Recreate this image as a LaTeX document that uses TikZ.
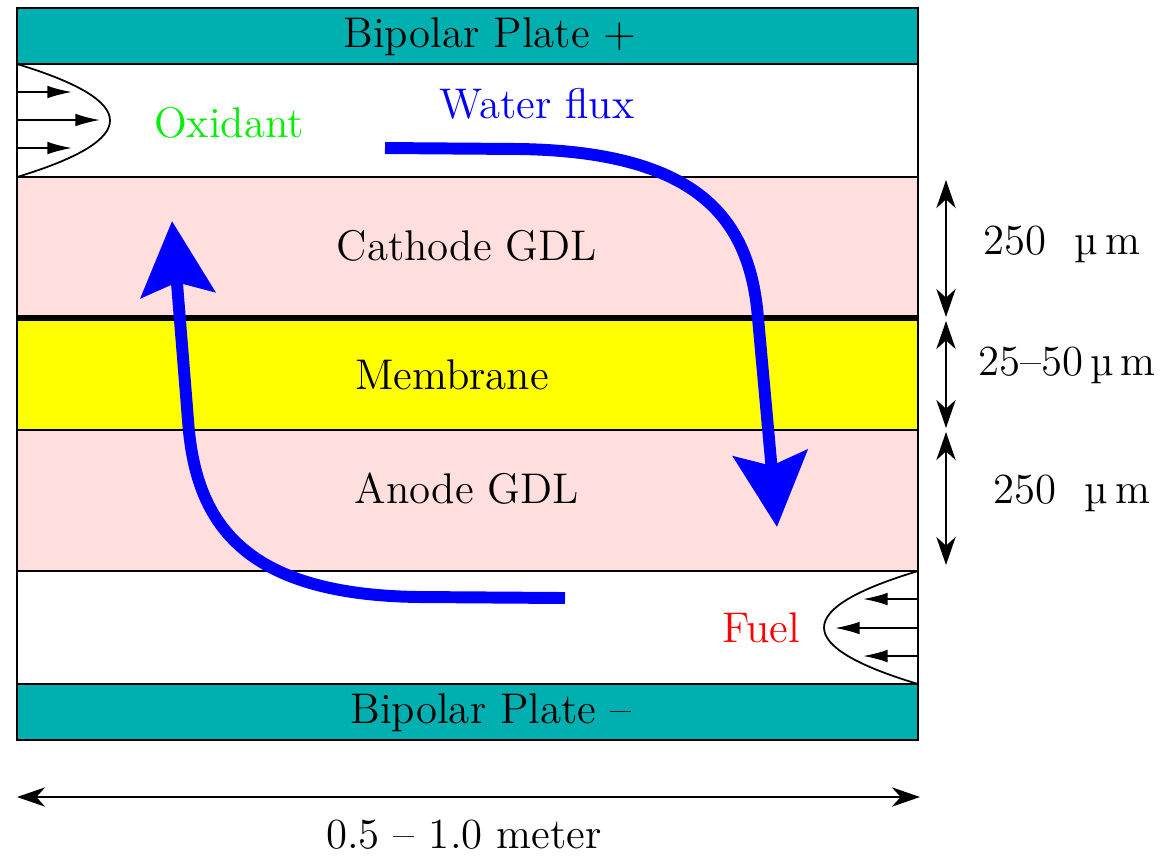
\documentclass[tikz,border=0pt]{standalone}
\usetikzlibrary{arrows.meta,calc}
\definecolor{plate}{HTML}{00B0B0}
\definecolor{gdl}{HTML}{FFDEDE}
\definecolor{membr}{HTML}{FFFF00}
\definecolor{flux}{HTML}{0000FF}
\definecolor{oxid}{HTML}{00F000}
\definecolor{fuelred}{HTML}{FF0000}

\begin{document}
\begin{tikzpicture}[x=0.01cm, y=-0.01cm, font=\fontsize{12.2}{15}\selectfont,
  layer/.style={draw=black, line width=0.5pt},
  profarrow/.style={-{Latex[length=7pt,width=3.6pt]}, line width=0.5pt},
  dimarrow/.style={{Stealth[length=8pt,width=5.5pt,inset=2.5pt]}-{Stealth[length=8pt,width=5.5pt,inset=2.5pt]}, line width=0.5pt},
  fluxarrow/.style={flux, line width=3.4pt, -{Stealth[length=21pt,width=21pt,inset=3.5pt]}}]
\useasboundingbox (0,0) rectangle (1166,856);
% layers, top to bottom
\filldraw[layer, fill=plate] (17,8) rectangle (918,64);
\draw[layer] (17,64) rectangle (918,177);
\filldraw[layer, fill=gdl] (17,177) rectangle (918,318);
\filldraw[layer, fill=membr] (17,318) rectangle (918,430);
\filldraw[layer, fill=gdl] (17,430) rectangle (918,571);
\draw[layer] (17,571) rectangle (918,684);
\filldraw[layer, fill=plate] (17,684) rectangle (918,740);
\draw[line width=1.5pt] (17,318) -- (918,318);
\node (platetop) at (490,37){Bipolar Plate +};
\node (cathode) at (467,246){Cathode GDL};
\node (membrane) at (452,375){Membrane};
\node (anode) at (467,489){Anode GDL};
\node (platebot) at (491,713){Bipolar Plate --};
\node[text=oxid] (oxidant) at (229,123){Oxidant};
\node[text=fuelred] (fuel) at (761,628){Fuel};
\node[text=flux] (waterflux) at (537,104){Water flux};
% inlet profiles
\draw[line width=0.5pt] (17,64) .. controls (141,101.7) and (141,139.3) .. (17,177);
\foreach \y/\e in {92/72,120/100,148/72}{
  \coordinate (oxs\y) at (17,\y);
  \coordinate (oxe\y) at (\e,\y);
  \draw[profarrow] (oxs\y) -- (oxe\y);
}
\draw[line width=0.5pt] (918,571) .. controls (792.7,608.7) and (792.7,646.3) .. (918,684);
\foreach \y/\e in {599/863,628/835,656/863}{
  \coordinate (fus\y) at (918,\y);
  \coordinate (fue\y) at (\e,\y);
  \draw[profarrow] (fus\y) -- (fue\y);
}
% water flux
\coordinate (wa) at (385,148);
\coordinate (wb) at (520,149);
\coordinate (wc) at (758,318);
\coordinate (wd) at (777,527);
\draw[fluxarrow] (wa) -- (wb) .. controls (700,152) and (750,220) .. (wc) -- (wd);
\coordinate (ba) at (565,598);
\coordinate (bb) at (420,597);
\coordinate (bc) at (188,420);
\coordinate (bd) at (172,221);
\draw[fluxarrow] (ba) -- (bb) .. controls (240,595) and (195,520) .. (bc) -- (bd);
% thicknesses
\foreach \i/\a/\b/\t/\lx/\ly in {1/180/317/{250~~µ\,m}/1062/244,
                                 2/321/428/{25--50\,µ\,m}/1067/365,
                                 3/432/565/{250~~µ\,m}/1072/493}{
  \coordinate (dt\i) at (946,\a);
  \coordinate (db\i) at (946,\b);
  \draw[dimarrow] (dt\i) -- (db\i);
  \node (dim\i) at (\lx,\ly){\t};
}
\coordinate (wl) at (17,797);
\coordinate (wr) at (920,797);
\draw[dimarrow] (wl) -- (wr);
\node (length) at (464,835){0.5 -- 1.0 meter};
\end{tikzpicture}
\end{document}
